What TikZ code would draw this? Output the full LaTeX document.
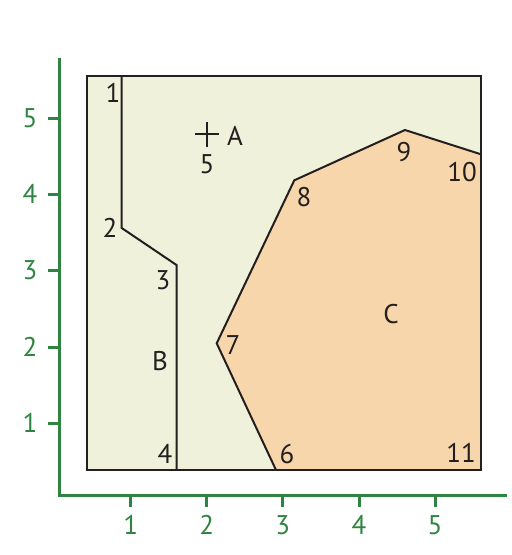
\documentclass[tikz,border=0pt]{standalone}
\usepackage{fontspec}
\setmainfont{PT Sans}
\definecolor{axisgreen}{RGB}{46,132,64}
\definecolor{cream}{RGB}{240,241,218}
\definecolor{peach}{RGB}{248,214,172}
\definecolor{ink}{RGB}{35,31,32}
\begin{document}
\begin{tikzpicture}[x=1pt,y=-1pt,
  edge/.style={draw=ink,line width=2pt,line join=miter},
  axis/.style={draw=axisgreen,line width=3.5pt},
  tick/.style={draw=axisgreen,line width=3pt},
  lbl/.style={text=ink,font=\fontsize{27}{31}\selectfont,inner sep=0pt},
  ticklbl/.style={text=axisgreen,font=\fontsize{27}{31}\selectfont,inner sep=0pt}]
\useasboundingbox (0,0) rectangle (512,555);
% vertices
\coordinate (TL) at (86.7,75.7);
\coordinate (TR) at (481,75.7);
\coordinate (BR) at (481,470);
\coordinate (BL) at (86.7,470);
\coordinate (v1) at (121.7,75.7);
\coordinate (v2) at (121.7,228);
\coordinate (v3) at (176.5,265);
\coordinate (v4) at (176.5,470);
\coordinate (v6) at (276,470);
\coordinate (v7) at (216.7,343.3);
\coordinate (v8) at (294.3,180.3);
\coordinate (v9) at (405,130);
\coordinate (v10) at (481,154.3);
% fills
\fill[cream] (TL) rectangle (BR);
\fill[peach] (v6) -- (v7) -- (v8) -- (v9) -- (v10) -- (BR) -- cycle;
% lines
\draw[edge] (TL) rectangle (BR);
\draw[edge] (v1) -- (v2) -- (v3) -- (v4);
\draw[edge] (v6) -- (v7) -- (v8) -- (v9) -- (v10);
% cross A
\coordinate (pA) at (207,134);
\draw[edge] ([xshift=-12pt]pA) -- ([xshift=12pt]pA);
\draw[edge] ([yshift=-12.5pt]pA) -- ([yshift=12.5pt]pA);
% axes
\coordinate (O) at (59.5,495.7);
\coordinate (ytop) at (59.5,58);
\coordinate (xend) at (506.7,495.7);
\draw[axis,line cap=butt] (ytop) -- (O) -- (xend);
\foreach \i/\px in {1/130.7,2/206.7,3/282.7,4/359,5/435}{
  \coordinate (xt\i) at (\px,495.7);
  \draw[tick] (xt\i) -- ++(0,11);
  \node[ticklbl] (xl\i) at (\px,525) {\i};
}
\foreach \i/\py in {1/423,2/347,3/270,4/194,5/118}{
  \coordinate (yt\i) at (59.5,\py);
  \draw[tick] (yt\i) -- ++(-12,0);
  \node[ticklbl] (yl\i) at (30,\py) {\i};
}
% labels
\node[lbl] (l1) at (113,93) {1};
\node[lbl] (l2) at (110,228) {2};
\node[lbl] (l3) at (163,280) {3};
\node[lbl] (l4) at (165,454) {4};
\node[lbl] (l5) at (207,164) {5};
\node[lbl] (l6) at (287,454) {6};
\node[lbl] (l7) at (233,345) {7};
\node[lbl] (l8) at (304,197) {8};
\node[lbl] (l9) at (404,152) {9};
\node[lbl] (l10) at (462,172) {10};
\node[lbl] (l11) at (461,453) {11};
\node[lbl] (lA) at (235,136) {A};
\node[lbl] (lB) at (160,361) {B};
\node[lbl] (lC) at (391,314) {C};
\end{tikzpicture}
\end{document}
